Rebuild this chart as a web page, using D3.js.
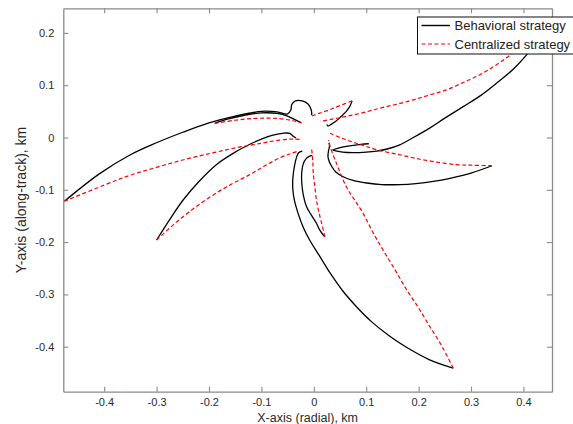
<!DOCTYPE html>
<html>
<head>
<meta charset="utf-8">
<script src="https://cdn.jsdelivr.net/npm/d3@7"></script>
<style>
  body { margin: 0; background: #fff; }
  svg { display: block; }
  text { font-family: Arial, "Liberation Sans", Helvetica, sans-serif; }
</style>
</head>
<body>
<svg id="chart" width="573" height="424"></svg>
<script>
// Axis ticks and legend entries
const xTicks = [-0.4, -0.3, -0.2, -0.1, 0, 0.1, 0.2, 0.3, 0.4];
const yTicks = [-0.4, -0.3, -0.2, -0.1, 0, 0.1, 0.2];
const seriesNames = ["Behavioral strategy", "Centralized strategy"];

// Deputy trajectories [x (radial), y (along-track)] in km, behavioral strategy
const behavioral1 = [[-0.476,-0.122],[-0.41,-0.070],[-0.35,-0.033],[-0.30,-0.010],[-0.25,0.010],[-0.20,0.028],[-0.15,0.041],[-0.10,0.050],[-0.07,0.049],[-0.050,0.045],[-0.044,0.052],[-0.042,0.063],[-0.035,0.070],[-0.022,0.070],[-0.011,0.064],[-0.005,0.053],[-0.004,0.043]];
const behavioral2 = [[-0.300,-0.196],[-0.275,-0.157],[-0.249,-0.119],[-0.22,-0.085],[-0.186,-0.052],[-0.15,-0.028],[-0.12,-0.012],[-0.10,-0.003],[-0.08,0.004],[-0.06,0.008],[-0.046,0.008],[-0.040,0.003],[-0.034,-0.001]];
const behavioral3 = [[0.266,-0.441],[0.221,-0.425],[0.18,-0.403],[0.145,-0.380],[0.11,-0.352],[0.081,-0.323],[0.055,-0.293],[0.031,-0.259],[0.01,-0.225],[-0.008,-0.196],[-0.020,-0.172],[-0.030,-0.145],[-0.037,-0.120],[-0.040,-0.100],[-0.040,-0.078],[-0.037,-0.055],[-0.033,-0.038],[-0.029,-0.029],[-0.022,-0.026]];
const behavioral4 = [[0.340,-0.054],[0.30,-0.068],[0.26,-0.078],[0.228,-0.084],[0.195,-0.088],[0.164,-0.090],[0.13,-0.090],[0.101,-0.087],[0.075,-0.082],[0.056,-0.075],[0.042,-0.066],[0.034,-0.055],[0.029,-0.045],[0.027,-0.036],[0.028,-0.026],[0.030,-0.016],[0.029,-0.010]];
const behavioral5 = [[0.021,-0.190],[0.012,-0.178],[0.005,-0.164],[-0.005,-0.148],[-0.014,-0.132],[-0.020,-0.110],[-0.023,-0.087],[-0.023,-0.066],[-0.020,-0.050],[-0.015,-0.041],[-0.009,-0.036],[-0.003,-0.034]];
const behavioral6 = [[0.073,0.070],[0.069,0.060],[0.062,0.050],[0.052,0.040],[0.042,0.031],[0.033,0.025],[0.027,0.022],[0.025,0.025]];
const behavioral7 = [[0.445,0.205],[0.43,0.19],[0.406,0.158],[0.38,0.13],[0.349,0.104],[0.318,0.080],[0.285,0.059],[0.25,0.037],[0.221,0.018],[0.19,0.000],[0.164,-0.014],[0.14,-0.022],[0.12,-0.026],[0.10,-0.028],[0.075,-0.029],[0.055,-0.028],[0.040,-0.025],[0.036,-0.024],[0.048,-0.020],[0.068,-0.016],[0.09,-0.013],[0.105,-0.012]];
const behavioral8 = [[-0.189,0.027],[-0.165,0.035],[-0.13,0.043],[-0.10,0.047],[-0.07,0.046],[-0.05,0.041],[-0.036,0.034],[-0.025,0.029]];

// Same deputies, centralized strategy
const centralized1 = [[-0.476,-0.122],[-0.40,-0.091],[-0.35,-0.072],[-0.30,-0.057],[-0.25,-0.043],[-0.20,-0.031],[-0.15,-0.020],[-0.10,-0.011],[-0.065,-0.005],[-0.04,-0.003],[-0.023,-0.004]];
const centralized2 = [[-0.300,-0.196],[-0.275,-0.173],[-0.249,-0.151],[-0.22,-0.129],[-0.186,-0.106],[-0.155,-0.088],[-0.122,-0.071],[-0.095,-0.055],[-0.065,-0.039],[-0.045,-0.031],[-0.029,-0.026]];
const centralized3 = [[0.266,-0.441],[0.245,-0.400],[0.221,-0.361],[0.2,-0.326],[0.177,-0.291],[0.155,-0.253],[0.132,-0.215],[0.112,-0.180],[0.094,-0.145],[0.077,-0.118],[0.062,-0.094],[0.043,-0.049],[0.031,-0.017],[0.028,-0.005]];
const centralized4 = [[0.340,-0.054],[0.30,-0.053],[0.272,-0.052],[0.228,-0.046],[0.195,-0.040],[0.164,-0.033],[0.126,-0.025],[0.10,-0.017],[0.081,-0.011],[0.055,-0.002],[0.031,0.008]];
const centralized5 = [[0.021,-0.190],[0.015,-0.164],[0.009,-0.140],[0.005,-0.119],[0.002,-0.095],[-0.001,-0.068],[-0.002,-0.045],[-0.004,-0.023]];
const centralized6 = [[0.073,0.070],[0.05,0.061],[0.03,0.053],[0.01,0.046],[-0.004,0.041]];
const centralized7 = [[0.445,0.205],[0.41,0.180],[0.380,0.161],[0.35,0.140],[0.317,0.120],[0.285,0.105],[0.253,0.091],[0.22,0.081],[0.190,0.072],[0.16,0.064],[0.126,0.056],[0.092,0.047],[0.06,0.040],[0.035,0.035],[0.012,0.031]];
const centralized8 = [[-0.189,0.027],[-0.15,0.033],[-0.12,0.036],[-0.09,0.037],[-0.065,0.036],[-0.04,0.032],[-0.023,0.028]];

const behavioralPaths = [behavioral1, behavioral2, behavioral3, behavioral4, behavioral5, behavioral6, behavioral7, behavioral8];
const centralizedPaths = [centralized1, centralized2, centralized3, centralized4, centralized5, centralized6, centralized7, centralized8];

const svg = d3.select("#chart");
const plot = { left: 63.3, right: 552, top: 8.3, bottom: 391.7 };

const x = d3.scaleLinear().domain([-0.478, 0.4545]).range([plot.left, plot.right]);
const y = d3.scaleLinear().domain([-0.486, 0.247]).range([plot.bottom, plot.top]);

svg.append("defs").append("clipPath").attr("id", "plot-clip")
  .append("rect")
  .attr("x", plot.left).attr("y", plot.top)
  .attr("width", plot.right - plot.left).attr("height", plot.bottom - plot.top);

const line = d3.line()
  .x(d => x(d[0])).y(d => y(d[1]))
  .curve(d3.curveCatmullRom.alpha(0.5));

const curves = svg.append("g").attr("clip-path", "url(#plot-clip)");

curves.selectAll("path.behavioral")
  .data(behavioralPaths)
  .join("path")
  .attr("class", "behavioral")
  .attr("d", line)
  .attr("fill", "none")
  .attr("stroke", "#000")
  .attr("stroke-width", 1.3)
  .attr("stroke-linejoin", "round");

curves.selectAll("path.centralized")
  .data(centralizedPaths)
  .join("path")
  .attr("class", "centralized")
  .attr("d", line)
  .attr("fill", "none")
  .attr("stroke", "#ff0000")
  .attr("stroke-width", 1.2)
  .attr("stroke-dasharray", "4,2.5");

// Axes: box with inward ticks on all four sides
const axisColor = "#8a8a8a";
const fmt = d => d === 0 ? "0" : String(d);

function styleAxis(g) {
  g.selectAll(".domain").attr("stroke", axisColor).attr("stroke-width", 1.3);
  g.selectAll(".tick line").attr("stroke", axisColor).attr("stroke-width", 1.1);
  g.selectAll(".tick text").attr("fill", "#2a2a2a").attr("font-size", 11)
    .attr("font-family", "Arial, 'Liberation Sans', Helvetica, sans-serif");
}

svg.append("g")
  .attr("transform", `translate(0,${plot.bottom})`)
  .call(d3.axisBottom(x).tickValues(xTicks).tickFormat(fmt).tickSizeInner(-5).tickSizeOuter(0).tickPadding(7))
  .call(styleAxis);

svg.append("g")
  .attr("transform", `translate(0,${plot.top})`)
  .call(d3.axisTop(x).tickValues(xTicks).tickFormat("").tickSizeInner(-5).tickSizeOuter(0))
  .call(styleAxis);

svg.append("g")
  .attr("transform", `translate(${plot.left},0)`)
  .call(d3.axisLeft(y).tickValues(yTicks).tickFormat(fmt).tickSizeInner(-5).tickSizeOuter(0).tickPadding(9))
  .call(styleAxis);

svg.append("g")
  .attr("transform", `translate(${plot.right},0)`)
  .call(d3.axisRight(y).tickValues(yTicks).tickFormat("").tickSizeInner(-5).tickSizeOuter(0))
  .call(styleAxis);

// Axis titles
svg.append("text")
  .attr("x", (plot.left + plot.right) / 2)
  .attr("y", 422)
  .attr("text-anchor", "middle")
  .attr("font-size", 12.5)
  .attr("fill", "#2a2a2a")
  .text("X-axis (radial), km");

svg.append("text")
  .attr("transform", `translate(26,${(plot.top + plot.bottom) / 2}) rotate(-90)`)
  .attr("text-anchor", "middle")
  .attr("font-size", 14)
  .attr("fill", "#2a2a2a")
  .text("Y-axis (along-track), km");

// Legend
const legend = svg.append("g");
legend.append("rect")
  .attr("x", 417.5).attr("y", 17)
  .attr("width", 200).attr("height", 37)
  .attr("fill", "#fff").attr("stroke", "#111").attr("stroke-width", 1);

const legendStyles = [
  { stroke: "#000", dash: null, width: 1.4 },
  { stroke: "#ff0000", dash: "4,2.5", width: 1.2 }
];
seriesNames.forEach((name, i) => {
  const cy = 25.5 + i * 18.5;
  legend.append("line")
    .attr("x1", 421.5).attr("x2", 450)
    .attr("y1", cy).attr("y2", cy)
    .attr("stroke", legendStyles[i].stroke)
    .attr("stroke-width", legendStyles[i].width)
    .attr("stroke-dasharray", legendStyles[i].dash);
  legend.append("text")
    .attr("x", 454.5).attr("y", cy + 4.5)
    .attr("font-size", 13)
    .attr("fill", "#222")
    .text(name);
});
</script>
</body>
</html>
